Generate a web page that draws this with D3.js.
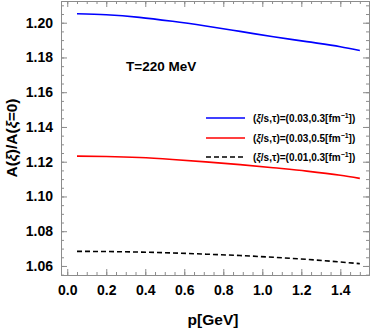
<!DOCTYPE html>
<html><head><meta charset="utf-8">
<script src="https://cdn.jsdelivr.net/npm/d3@7"></script>
<style>
html,body{margin:0;padding:0;background:#fff;}
svg{display:block;font-family:"Liberation Sans",Arial,Helvetica,sans-serif;}
</style></head>
<body><svg id="c" width="371" height="330"></svg>
<script>
const pGrid = [0.05, 0.2, 0.37, 0.54, 0.71, 0.886, 1.057, 1.228, 1.4, 1.5];
const blueVals = [1.2052, 1.2046, 1.2031, 1.2008, 1.1981, 1.1950, 1.1919, 1.1891, 1.1862, 1.1840];
const redVals  = [1.1232, 1.1230, 1.1224, 1.1213, 1.1199, 1.1183, 1.1165, 1.1146, 1.1122, 1.1104];
const blackVals= [1.0684, 1.0683, 1.0680, 1.0675, 1.0668, 1.0660, 1.0650, 1.0638, 1.0623, 1.0613];
const seriesLabels = ["0.03,0.3", "0.03,0.5", "0.01,0.3"];
const seriesColors = ["#0000ff", "#ff0000", "#000000"];
const xTicks = [0.0, 0.2, 0.4, 0.6, 0.8, 1.0, 1.2, 1.4];
const yTicks = [1.06, 1.08, 1.10, 1.12, 1.14, 1.16, 1.18, 1.20];

const svg = d3.select("#c");
const L = 61, R = 369, T = 1, B = 275;
const x = d3.scaleLinear().domain([-0.032, 1.547]).range([L, R]);
const y = d3.scaleLinear().domain([1.0548, 1.2125]).range([B, T]);

const frameCol = "#8c8c8c";
const xMinor = d3.range(0, 1.55, 0.05).filter(v => x(v) <= R);
const yMinor = d3.range(1.055, 1.2126, 0.005);

function axisG(axis, tx, ty) {
  const g = svg.append("g").attr("transform", `translate(${tx},${ty})`).call(axis);
  g.select(".domain").attr("stroke", frameCol).attr("stroke-width", 1);
  g.selectAll(".tick line").attr("stroke", frameCol);
  return g;
}
// minor ticks
axisG(d3.axisBottom(x).tickValues(xMinor).tickSize(-3).tickFormat(""), 0, B);
axisG(d3.axisTop(x).tickValues(xMinor).tickSize(-3).tickFormat(""), 0, T);
axisG(d3.axisLeft(y).tickValues(yMinor).tickSize(-3).tickFormat(""), L, 0);
axisG(d3.axisRight(y).tickValues(yMinor).tickSize(-3).tickFormat(""), R, 0);
// major ticks
const xb = axisG(d3.axisBottom(x).tickValues(xTicks).tickSizeInner(-6).tickSizeOuter(0).tickPadding(10).tickFormat(d3.format(".1f")), 0, B);
axisG(d3.axisTop(x).tickValues(xTicks).tickSizeInner(-6).tickSizeOuter(0).tickFormat(""), 0, T);
const yl = axisG(d3.axisLeft(y).tickValues(yTicks).tickSizeInner(-6).tickSizeOuter(0).tickPadding(8).tickFormat(d3.format(".2f")), L, 0);
axisG(d3.axisRight(y).tickValues(yTicks).tickSizeInner(-6).tickSizeOuter(0).tickFormat(""), R, 0);
[xb, yl].forEach(g => g.selectAll(".tick text")
  .attr("fill", "#000").attr("font-size", 14).attr("font-weight", "bold")
  .attr("font-family", "Liberation Sans, Arial, sans-serif"));

// curves
const allVals = [blueVals, redVals, blackVals];
const line = d3.line().x((d, i) => x(pGrid[i])).y(d => y(d)).curve(d3.curveMonotoneX);
allVals.forEach((vals, k) => {
  svg.append("path").datum(vals).attr("d", line)
    .attr("fill", "none").attr("stroke", seriesColors[k]).attr("stroke-width", 1.6)
    .attr("stroke-dasharray", k === 2 ? "5,3" : null);
});

// legend
const legY = [118, 138, 157];
seriesLabels.forEach((lab, k) => {
  svg.append("line").attr("x1", 206).attr("x2", 245).attr("y1", legY[k]).attr("y2", legY[k])
    .attr("stroke", seriesColors[k]).attr("stroke-width", 1.6)
    .attr("stroke-dasharray", k === 2 ? "5,3" : null);
  const t = svg.append("text").attr("x", 253).attr("y", legY[k] + 3.8)
    .attr("font-size", 10).attr("font-weight", "bold").attr("fill", "#000");
  t.append("tspan").text("(");
  t.append("tspan").attr("font-style", "italic").text("ξ");
  t.append("tspan").text("/s,τ)=(" + lab + "[fm");
  t.append("tspan").attr("font-size", 7).attr("dy", -4).text("−1");
  t.append("tspan").attr("dy", 4).text("])");
});

// annotation
svg.append("text").attr("x", 126).attr("y", 71).attr("font-size", 13.5)
  .attr("font-weight", "bold").text("T=220 MeV");

// axis titles
svg.append("text").attr("x", 213).attr("y", 325).attr("text-anchor", "middle")
  .attr("font-size", 15.5).attr("font-weight", "bold").text("p[GeV]");
const yt = svg.append("text").attr("transform", "translate(17,138) rotate(-90)")
  .attr("text-anchor", "middle").attr("font-size", 15.5).attr("font-weight", "bold");
yt.append("tspan").text("A(");
yt.append("tspan").attr("font-style", "italic").text("ξ");
yt.append("tspan").text(")/A(");
yt.append("tspan").attr("font-style", "italic").text("ξ");
yt.append("tspan").text("=0)");
</script></body></html>
